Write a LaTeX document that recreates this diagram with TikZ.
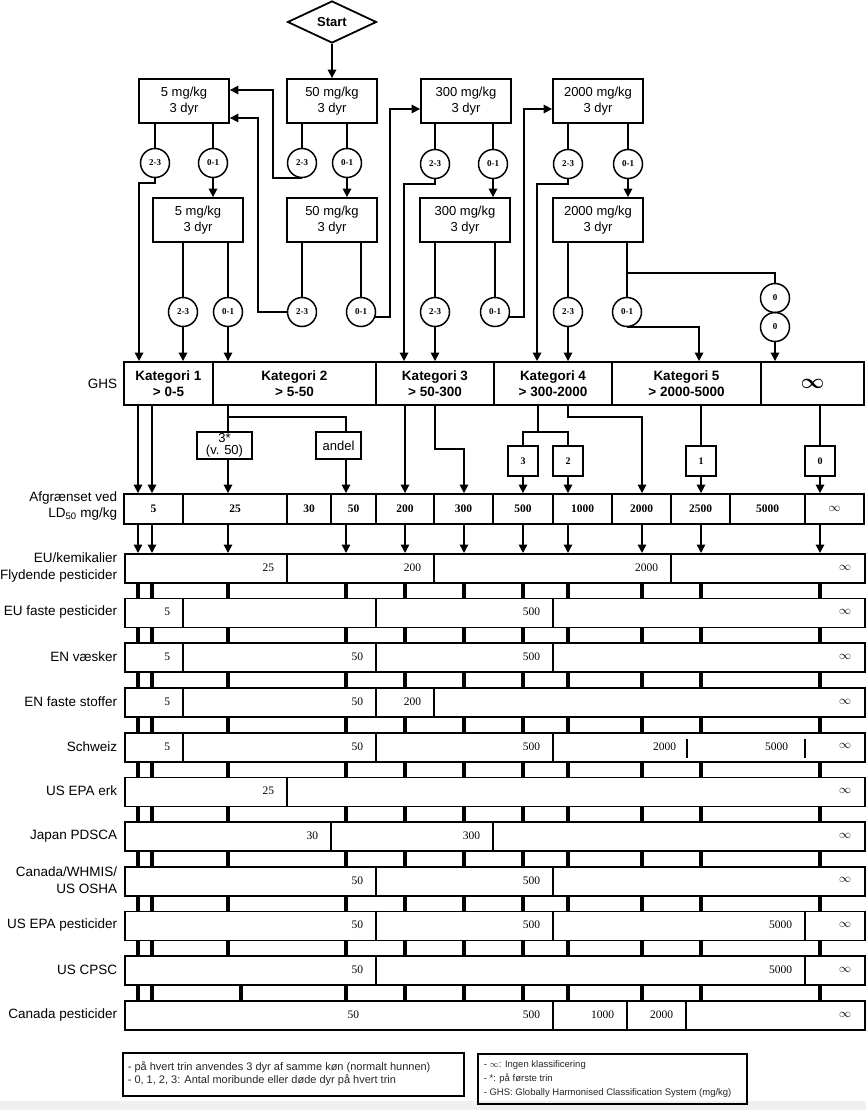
\documentclass[tikz,border=0pt]{standalone}
\usepackage{amsmath}
\usepackage{fontspec}
\setmainfont{Liberation Sans}
\newfontfamily\serf{Liberation Serif}
\usetikzlibrary{shapes.geometric,arrows.meta,calc}
\newcommand\regrow[5]{%
  \node[rowbox] (#1) at (124,#2) {};
  \node[lab] (#1L) at (118,#2+14.5) {#3};
  \foreach \d in {#4}{\draw[line width=1.6pt] (\d,#2) -- (\d,#2+29);}
  \foreach \p/\t in {#5}{\node[num] (#1-\p) at (\p-12,#2+14.5) {\t};}
}
\begin{document}
\begin{tikzpicture}[x=1pt,y=-1pt,line width=1.6pt,
  arr/.style={-{Triangle[length=8.5pt,width=8.5pt]}},
  box/.style={draw,line width=1.8pt,minimum width=90pt,minimum height=44pt,inner sep=0pt,align=center,font=\fontsize{13}{16}\selectfont},
  circ/.style={draw,circle,line width=1.5pt,minimum size=29pt,inner sep=0pt,font=\serf\bfseries\fontsize{9}{9}\selectfont},
  ghs/.style={draw,line width=1.9pt,minimum height=43pt,inner sep=0pt,align=center,font=\bfseries\fontsize{13.5}{16}\selectfont},
  ld/.style={draw,line width=1.8pt,minimum height=30pt,inner sep=0pt,font=\serf\bfseries\fontsize{11.5}{12}\selectfont},
  kbox/.style={draw,line width=1.7pt,minimum width=30pt,minimum height=30pt,inner sep=0pt,font=\serf\bfseries\fontsize{10}{10}\selectfont},
  rowbox/.style={draw,line width=1.7pt,minimum width=740pt,minimum height=29pt,inner sep=0pt,anchor=north west},
  num/.style={anchor=east,inner sep=0pt,font=\serf\fontsize{11.5}{12}\selectfont},
  lab/.style={anchor=east,align=right,inner sep=0pt,font=\fontsize{13.5}{16.5}\selectfont},
  tickline/.style={line width=3.5pt},
  legtext/.style={anchor=west,align=left,inner sep=0pt,text=black!85},
]
\useasboundingbox (0,0) rectangle (866,1110);
\fill[white] (0,0) rectangle (866,1110);
\fill[gray!12] (0,1101) rectangle (866,1110);

% ---------- flow chart ----------
\node[draw,diamond,aspect=2.1,minimum width=89pt,minimum height=42pt,inner sep=0pt,line width=1.8pt,font=\bfseries\fontsize{13}{13}\selectfont] (start) at (332,22) {Start};

\node[box] (b5a) at (184,101) {5 mg/kg\\3 dyr};
\node[box] (b50a) at (332,101) {50 mg/kg\\3 dyr};
\node[box] (b300a) at (466,101) {300 mg/kg\\3 dyr};
\node[box] (b2000a) at (598,101) {2000 mg/kg\\3 dyr};
\node[box] (b5b) at (198,220) {5 mg/kg\\3 dyr};
\node[box] (b50b) at (332,220) {50 mg/kg\\3 dyr};
\node[box] (b300b) at (465,220) {300 mg/kg\\3 dyr};
\node[box] (b2000b) at (598,220) {2000 mg/kg\\3 dyr};

\foreach \n/\x/\y/\t in {c5a23/155/163/2-3, c5a01/213/163/0-1, c50a23/302/163/2-3, c50a01/347/163/0-1,
  c300a23/435/164/2-3, c300a01/493/164/0-1, c2000a23/568/164/2-3, c2000a01/628/164/0-1,
  c5b23/183/312/2-3, c5b01/228/312/0-1, c50b23/302/312/2-3, c50b01/361/312/0-1,
  c300b23/435/312/2-3, c300b01/495/312/0-1, c2000b23/568/312/2-3, c2000b01/627/312/0-1,
  c0a/775/298/0, c0b/775/327/0}
  {\node[circ] (\n) at (\x,\y) {\t};}

\draw[arr] (start.south) -- (b50a.north);
% box -> circle lines
\foreach \b/\c in {b5a/c5a23, b5a/c5a01, b50a/c50a23, b50a/c50a01, b300a/c300a23, b300a/c300a01,
  b2000a/c2000a23, b2000a/c2000a01, b5b/c5b23, b5b/c5b01, b50b/c50b23, b50b/c50b01,
  b300b/c300b23, b300b/c300b01, b2000b/c2000b23, b2000b/c2000b01}
  {\draw (\c.north |- \b.south) -- (\c.north);}
% 0-1 of first row -> second row
\foreach \c/\b in {c5a01/b5b, c50a01/b50b, c300a01/b300b, c2000a01/b2000b}
  {\draw[arr] (\c.south) -- (\c.south |- \b.north);}

% GHS row
\node[ghs,minimum width=89pt] (g1) at (168.5,383.5) {Kategori 1\\> 0-5};
\node[ghs,minimum width=163pt] (g2) at (294.5,383.5) {Kategori 2\\> 5-50};
\node[ghs,minimum width=118pt] (g3) at (435,383.5) {Kategori 3\\> 50-300};
\node[ghs,minimum width=118pt] (g4) at (553,383.5) {Kategori 4\\> 300-2000};
\node[ghs,minimum width=149pt] (g5) at (686.5,383.5) {Kategori 5\\> 2000-5000};
\node[ghs,minimum width=103pt,font=\bfseries\fontsize{20}{20}\selectfont] (g6) at (812.5,383.5) {$\boldsymbol{\infty}$};
\node[lab] (ghslab) at (118,383.5) {GHS};

% bend points
\coordinate (k1) at (273,90);
\coordinate (k2) at (258,118);
\coordinate (k3) at (390,109);
\coordinate (k4) at (524,109);
\coordinate (k5) at (627,273);

\draw[arr] (c5a23.south) -- ++(0,5) -| ([xshift=16pt]g1.north west);
\draw[arr] (c50a23.south) -| (k1) -- (k1 -| b5a.east);
\draw[arr] (c50b23.west) -| (k2) -- (k2 -| b5a.east);
\draw[arr] (c50b01.-20) -| (k3) -- (k3 -| b300a.west);
\draw[arr] (c300a23.south) -- ++(0,5) -| ([xshift=29pt]g3.north west);
\draw[arr] (c300b01.-20) -| (k4) -- (k4 -| b2000a.west);
\draw[arr] (c2000a23.south) -- ++(0,5) -| ([xshift=44pt]g4.north west);
\draw[arr] (c2000b01.south) -| ([xshift=88pt]g5.north west);
\draw (k5) -| (c0a.north);
\foreach \c in {c5b23, c5b01, c300b23, c2000b23, c0b}
  {\draw[arr] (\c.south) -- (\c.south |- g1.north);}

% LD50 row
\foreach \n/\x/\w/\t in {l1/153.5/59/5, l2/235/104/25, l3/309/44/30, l4/353.5/45/50, l5/405/58/200,
  l6/463.5/59/300, l7/523/60/500, l8/582.5/59/1000, l9/641.5/59/2000, l10/700.5/59/2500,
  l11/767.5/75/5000, l12/834.5/59/$\infty$}
  {\node[ld,minimum width=\w pt] (\n) at (\x,509) {\t};}
\node[lab] (ldlab) at (118,506) {Afgrænset ved\\LD\textsubscript{50} mg/kg};

% tick x positions
\foreach \n/\x in {tA/138, tB/152, tC/228, tD/346, tE/405, tF/464, tG/523, tH/568, tI/642, tJ/701, tK/820, tC2/241}
  {\coordinate (\n) at (\x,0);}

% small boxes between GHS and LD
\node[kbox,minimum width=55pt,minimum height=27pt,font=\fontsize{13}{12}\selectfont,align=center] (bstar) at (224.5,445.5) {3*\\(v. 50)};
\node[kbox,minimum width=45pt,minimum height=27pt,font=\fontsize{13}{13}\selectfont] (bandel) at (338.5,445.5) {andel};
\node[kbox] (bk3) at (523,461) {3};
\node[kbox] (bk2) at (568,461) {2};
\node[kbox] (bk1) at (701,461) {1};
\node[kbox] (bk0) at (820,461) {0};
\coordinate (k6) at (228,417);
\coordinate (k7) at (346,417);
\coordinate (k8) at (435,449);
\coordinate (k9) at (538,432);
\coordinate (k10) at (568,417);

\draw[arr] (tA |- g1.south) -- (tA |- l1.north);
\draw[arr] (tB |- g1.south) -- (tB |- l1.north);
\draw (k6 |- g2.south) -- (k6) -- (k6 |- bstar.north);
\draw (k6) -- (k7) -- (k7 |- bandel.north);
\draw[arr] (k6 |- bstar.south) -- (k6 |- l2.north);
\draw[arr] (k7 |- bandel.south) -- (k7 |- l4.north);
\draw[arr] (tE |- g3.south) -- (tE |- l5.north);
\draw[arr] (k8 |- g3.south) -- (k8) -| (tF |- l6.north);
\draw (k9 |- g4.south) -- (k9);
\draw (k9) -| (bk3.north);
\draw (k9) -| (bk2.north);
\draw[arr] (bk3.south) -- (bk3.south |- l7.north);
\draw[arr] (bk2.south) -- (bk2.south |- l8.north);
\draw[arr] (k10 |- g4.south) -- (k10) -| (tI |- l9.north);
\draw (bk1.north |- g5.south) -- (bk1.north);
\draw[arr] (bk1.south) -- (bk1.south |- l10.north);
\draw (bk0.north |- g6.south) -- (bk0.north);
\draw[arr] (bk0.south) -- (bk0.south |- l12.north);

% regulation rows
\regrow{r1}{553}{EU/kemikalier\\Flydende pesticider}{287,434,671}{287/25,434/200,671/2000,864/$\infty$}
\regrow{r2}{597.7}{EU faste pesticider}{183,376,553}{183/5,553/500,864/$\infty$}
\regrow{r3}{642.4}{EN væsker}{183,376,553}{183/5,376/50,553/500,864/$\infty$}
\regrow{r4}{687.1}{EN faste stoffer}{183,376,434}{183/5,376/50,434/200,864/$\infty$}
\regrow{r5}{731.8}{Schweiz}{183,376,553}{183/5,376/50,553/500,864/$\infty$}
\regrow{r6}{776.5}{US EPA erk}{287}{287/25,864/$\infty$}
\regrow{r7}{821.2}{Japan PDSCA}{331,493}{331/30,493/300,864/$\infty$}
\regrow{r8}{865.9}{Canada/WHMIS/\\US OSHA}{376,553}{376/50,553/500,864/$\infty$}
\regrow{r9}{910.6}{US EPA pesticider}{376,553,805}{376/50,553/500,805/5000,864/$\infty$}
\regrow{r10}{955.3}{US CPSC}{376,805}{376/50,805/5000,864/$\infty$}
\regrow{r11}{1000}{Canada pesticider}{553,627,686}{372/50,553/500,627/1000,686/2000,864/$\infty$}
% Schweiz extra marks
\node[num] (sw2000) at (677,746.3) {2000};
\node[num] (sw5000) at (789,746.3) {5000};
\draw[line width=1.3pt] (687,739) -- (687,758);
\draw[line width=1.3pt] (805,739) -- (805,758);

% arrows LD -> first row
\foreach \t in {tA,tB,tC,tD,tE,tF,tG,tH,tI,tJ,tK}
  {\draw[arr] (\t |- l1.south) -- (\t |- r1.north);}
% ticks between rows
\foreach \a/\b in {r1/r2,r2/r3,r3/r4,r4/r5,r5/r6,r6/r7,r7/r8,r8/r9,r9/r10}
  {\foreach \t in {tA,tB,tC,tD,tE,tF,tG,tH,tI,tJ,tK}
    {\draw[tickline] (\t |- \a.south) -- (\t |- \b.north);}}
\foreach \t in {tA,tB,tC2,tD,tE,tF,tG,tH,tI,tJ,tK}
  {\draw[tickline] (\t |- r10.south) -- (\t |- r11.north);}

% legend
\node[draw,line width=1.5pt,minimum width=341pt,minimum height=43pt,inner sep=0pt,anchor=north west] (leg1) at (122,1052) {};
\node[legtext,font=\fontsize{11}{13}\selectfont] (leg1t) at (127,1073.5) {- på hvert trin anvendes 3 dyr af samme køn (normalt hunnen)\\- 0, 1, 2, 3: Antal moribunde eller døde dyr på hvert trin};
\node[draw,line width=1.5pt,minimum width=269pt,minimum height=50pt,inner sep=0pt,anchor=north west] (leg2) at (477,1053) {};
\node[legtext,font=\fontsize{9.5}{14}\selectfont] (leg2t) at (483,1079) {- $\infty$: Ingen klassificering\\- *: på første trin\\- GHS: Globally Harmonised Classification System (mg/kg)};
\end{tikzpicture}
\end{document}
